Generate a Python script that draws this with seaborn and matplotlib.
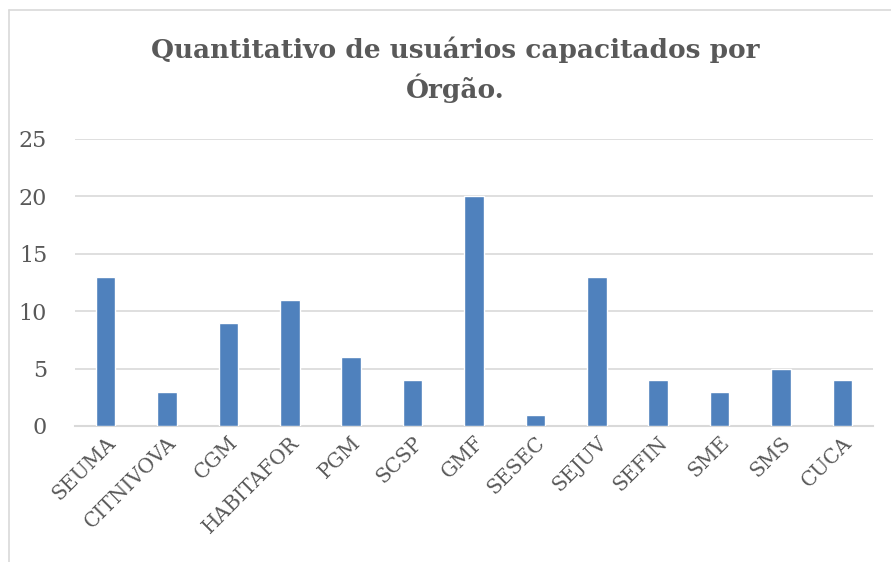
import matplotlib.pyplot as plt
import seaborn as sns
import pandas as pd
from matplotlib.lines import Line2D

orgaos = ["SEUMA", "CITNIVOVA", "CGM", "HABITAFOR", "PGM", "SCSP", "GMF",
          "SESEC", "SEJUV", "SEFIN", "SME", "SMS", "CUCA"]
usuarios = [13, 3, 9, 11, 6, 4, 20, 1, 13, 4, 3, 5, 4]
yticks = [0, 5, 10, 15, 20, 25]

df = pd.DataFrame({"orgao": orgaos, "usuarios": usuarios})

sns.set_style("white")
plt.rcParams['font.family'] = ['DejaVu Serif']

fig = plt.figure(figsize=(8.91, 5.62), dpi=100)
ax = fig.add_axes([0.084, 0.242, 0.896, 0.511])

sns.barplot(data=df, x="orgao", y="usuarios", color="#4f81bd", width=0.32,
            saturation=1, ax=ax, zorder=3)

ax.set_ylim(0, 25)
ax.set_yticks(yticks)
ax.set_xlim(-0.5, len(orgaos) - 0.5)
ax.yaxis.grid(True, color="#d9d9d9", linewidth=1.2, zorder=0)
ax.set_axisbelow(True)
for s in ["top", "right", "left"]:
    ax.spines[s].set_visible(False)
ax.spines["bottom"].set_color("#d9d9d9")
ax.spines["bottom"].set_linewidth(1.5)

ax.tick_params(axis="x", length=0, labelsize=14.5, labelcolor="#595959", pad=5)
ax.tick_params(axis="y", length=0, labelsize=16, labelcolor="#595959", pad=20)
plt.setp(ax.get_xticklabels(), rotation=45, ha="right", rotation_mode="anchor")
ax.set_xlabel("")
ax.set_ylabel("")

fig.text(0.511, 0.876, "Quantitativo de usuários capacitados por\nÓrgão.",
         ha="center", va="center", fontsize=19, fontweight="bold",
         color="#595959", linespacing=1.45)

# borda do gráfico
fig.add_artist(Line2D([0.0101, 0.0101], [0, 0.982], color="#d9d9d9",
                      linewidth=1.2, transform=fig.transFigure))
fig.add_artist(Line2D([0.0101, 1.0], [0.982, 0.982], color="#d9d9d9",
                      linewidth=1.2, transform=fig.transFigure))

fig.savefig("out.png", dpi=100)
